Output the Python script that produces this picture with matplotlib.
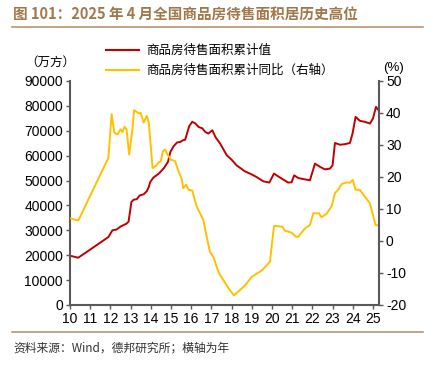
import matplotlib
matplotlib.use("Agg")
import matplotlib.pyplot as plt
from matplotlib.lines import Line2D

plt.rcParams['font.family'] = ['Noto Sans CJK SC', 'DejaVu Sans']
plt.rcParams['axes.unicode_minus'] = False

# 商品房待售面积累计值（万方）
stock_x = [2010.0, 2010.41, 2011.9, 2012.1, 2012.3, 2012.5, 2012.8, 2012.9, 2013.04, 2013.15,
           2013.3, 2013.45, 2013.65, 2013.8, 2013.9, 2013.97, 2014.13, 2014.4, 2014.65, 2014.85,
           2014.97, 2015.13, 2015.3, 2015.45, 2015.6, 2015.7, 2015.8, 2015.9, 2016.05, 2016.2,
           2016.37, 2016.55, 2016.7, 2016.85, 2017.05, 2017.2, 2017.43, 2017.76, 2018.0, 2018.25,
           2018.66, 2018.99, 2019.24, 2019.57, 2019.87, 2020.1, 2020.4, 2020.8, 2020.97, 2021.1,
           2021.3, 2021.55, 2021.88, 2022.13, 2022.38, 2022.62, 2022.87, 2023.0, 2023.12, 2023.37,
           2023.6, 2023.86, 2023.99, 2024.14, 2024.35, 2024.6, 2024.85, 2025.0, 2025.15, 2025.3]
stock_val = [19800, 19000, 27300, 30000, 30300, 31500, 32700, 33500, 41400, 42300,
             42500, 44000, 44500, 45700, 47400, 49400, 51200, 52800, 55000, 57500,
             61500, 63800, 65300, 65500, 66200, 66400, 69100, 71800, 73600, 73000,
             71500, 71000, 69500, 68900, 70200, 67500, 64900, 60200, 58400, 56100,
             53700, 52500, 51400, 49700, 49200, 52800, 51200, 49200, 49300, 52100,
             51000, 50600, 50100, 56800, 55500, 54500, 54800, 56100, 65100, 64400,
             64600, 65100, 68900, 75600, 74000, 73600, 72900, 74900, 79600, 78000]

# 商品房待售面积累计同比（%）
yoy_x = [2010.0, 2010.41, 2011.9, 2012.06, 2012.2, 2012.35, 2012.5, 2012.6, 2012.7, 2012.8,
         2012.93, 2013.1, 2013.17, 2013.4, 2013.5, 2013.65, 2013.8, 2013.9, 2014.09, 2014.25,
         2014.4, 2014.5, 2014.6, 2014.7, 2014.8, 2015.0, 2015.2, 2015.4, 2015.54, 2015.6,
         2015.75, 2015.87, 2016.05, 2016.27, 2016.6, 2016.77, 2016.93, 2017.1, 2017.35, 2017.6,
         2017.76, 2017.92, 2018.12, 2018.4, 2018.66, 2018.99, 2019.24, 2019.5, 2019.74, 2019.9,
         2020.1, 2020.3, 2020.5, 2020.65, 2020.97, 2021.2, 2021.3, 2021.5, 2021.65, 2021.88,
         2022.05, 2022.2, 2022.33, 2022.45, 2022.7, 2022.95, 2023.12, 2023.28, 2023.45, 2023.7,
         2023.86, 2024.0, 2024.14, 2024.35, 2024.6, 2024.85, 2025.0, 2025.13, 2025.3]
yoy_val = [7.1, 6.4, 26.0, 39.6, 33.8, 33.3, 34.9, 34.0, 35.7, 34.9,
           27.0, 35.4, 40.9, 39.9, 40.0, 37.0, 39.1, 37.0, 22.8, 23.5,
           24.6, 25.0, 28.0, 28.6, 27.3, 25.4, 25.0, 21.3, 19.2, 16.5,
           17.6, 16.0, 15.8, 10.8, 6.6, 1.3, -3.4, -5.0, -9.7, -12.3,
           -13.9, -15.4, -17.0, -15.4, -13.9, -11.3, -10.2, -9.2, -7.6, -6.5,
           4.7, 4.6, 4.5, 3.2, 2.6, 1.3, 1.3, 2.9, 4.0, 5.0,
           8.7, 8.6, 8.7, 7.4, 8.5, 10.8, 15.0, 16.0, 17.8, 18.3,
           18.2, 19.1, 16.0, 16.0, 13.9, 11.8, 8.1, 5.0, 4.8]

years = list(range(2010, 2026))
year_labels = [str(y - 2000) for y in years]

red = '#C00000'
yellow = '#FFC000'
spine_c = '#595959'
brown = '#A0784B'

fig = plt.figure(figsize=(4.33, 3.65), dpi=100)
ax = fig.add_axes([70 / 433, 1 - 305 / 365, 309 / 433, 224 / 365])
ax2 = ax.twinx()

ax.plot(stock_x, stock_val, color=red, lw=1.4)
ax2.plot(yoy_x, yoy_val, color=yellow, lw=1.4)

ax.set_xlim(2010, 2025.3)
ax.set_ylim(0, 90000)
ax.set_yticks(range(0, 90001, 10000))
ax2.set_ylim(-20, 50)
ax2.set_yticks(range(-20, 51, 10))
ax.set_xticks(years)
ax.set_xticklabels(year_labels)

for a in (ax, ax2):
    a.spines['top'].set_visible(False)
    for s in ('left', 'right', 'bottom'):
        a.spines[s].set_color(spine_c)
        a.spines[s].set_linewidth(1.5)
    a.tick_params(labelsize=10, colors='black', length=3, width=1, color=spine_c, pad=2)
    for lab in a.get_xticklabels() + a.get_yticklabels():
        lab.set_family('Liberation Sans')
ax.spines['right'].set_visible(False)
ax2.spines['left'].set_visible(False)
ax2.spines['bottom'].set_visible(False)

# legend
fig.legend(handles=[Line2D([], [], color=red, lw=1.5), Line2D([], [], color=yellow, lw=1.5)],
           labels=['商品房待售面积累计值', '商品房待售面积累计同比（右轴）'],
           loc='upper left', bbox_to_anchor=(100 / 433, 1 - 38 / 365), frameon=False,
           fontsize=9, handlelength=2.6, handletextpad=0.6, labelspacing=0.55, borderpad=0)

fig.text(50 / 433, 1 - 62 / 365, '（万方）', ha='center', va='center', fontsize=9)
fig.text(393 / 433, 1 - 68 / 365, '(%)', ha='center', va='center', fontsize=9.5,
         family='Liberation Sans')

# title and frame lines
fig.text(13 / 433, 1 - 14 / 365, '图 101：2025 年 4 月全国商品房待售面积居历史高位',
         ha='left', va='center', fontsize=10.5, fontweight='bold', color=brown)
fig.add_artist(Line2D([12 / 433, 423 / 433], [1 - 27 / 365] * 2, color='#B89470', lw=1.2))
fig.add_artist(Line2D([12 / 433, 423 / 433], [1 - 332 / 365] * 2, color='#B89470', lw=1.2))
fig.text(13 / 433, 1 - 348 / 365, '资料来源：Wind，德邦研究所；横轴为年',
         ha='left', va='center', fontsize=8.5, color='#333333')

fig.savefig('out.png', dpi=100)
